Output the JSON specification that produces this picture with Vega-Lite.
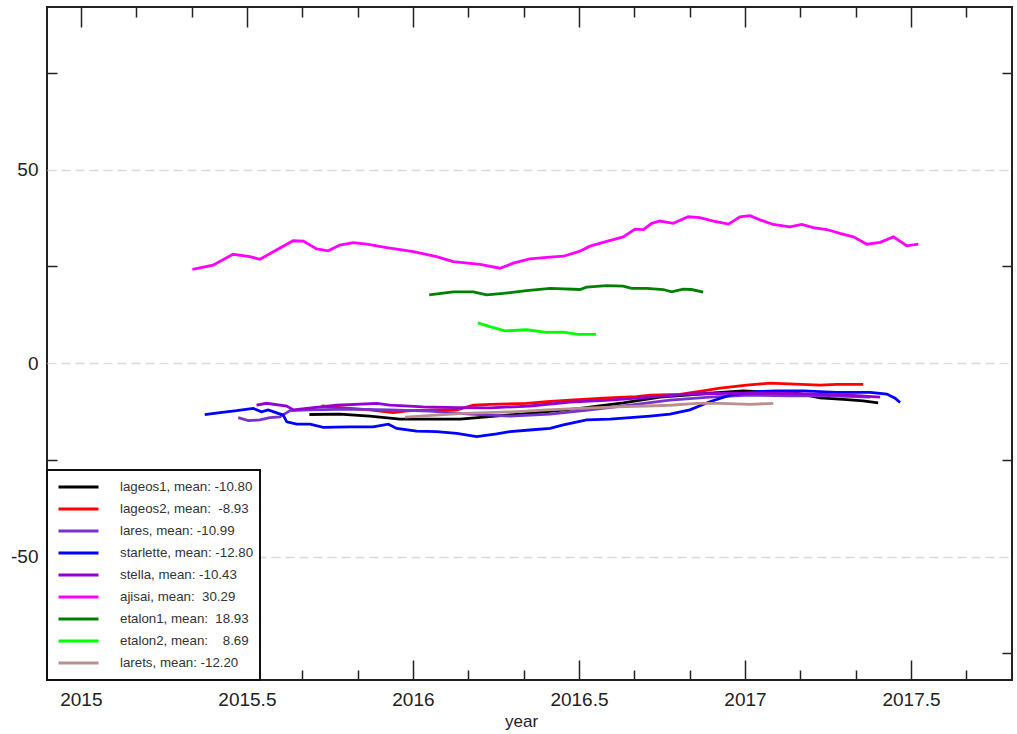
{
  "$schema": "https://vega.github.io/schema/vega-lite/v6.json",
  "width": 965,
  "height": 673,
  "autosize": "none",
  "padding": {"left": 47, "top": 7, "right": 5, "bottom": 54},
  "background": "white",
  "config": {
    "view": {"stroke": "#222222", "strokeWidth": 2},
    "font": "Liberation Sans",
    "legend": {"strokeWidth": 2}
  },
  "datasets": {
    "orbits": [
      {"sat": "lageos1", "t": 2015.688, "v": -13.3},
      {"sat": "lageos1", "t": 2015.780, "v": -13.2},
      {"sat": "lageos1", "t": 2015.870, "v": -13.7},
      {"sat": "lageos1", "t": 2015.961, "v": -14.5},
      {"sat": "lageos1", "t": 2016.051, "v": -14.5},
      {"sat": "lageos1", "t": 2016.142, "v": -14.5},
      {"sat": "lageos1", "t": 2016.222, "v": -13.9},
      {"sat": "lageos1", "t": 2016.292, "v": -13.4},
      {"sat": "lageos1", "t": 2016.373, "v": -12.8},
      {"sat": "lageos1", "t": 2016.503, "v": -11.7},
      {"sat": "lageos1", "t": 2016.633, "v": -10.3},
      {"sat": "lageos1", "t": 2016.744, "v": -8.8},
      {"sat": "lageos1", "t": 2016.895, "v": -7.8},
      {"sat": "lageos1", "t": 2016.995, "v": -7.2},
      {"sat": "lageos1", "t": 2017.156, "v": -7.8},
      {"sat": "lageos1", "t": 2017.226, "v": -9.0},
      {"sat": "lageos1", "t": 2017.296, "v": -9.4},
      {"sat": "lageos1", "t": 2017.356, "v": -9.8},
      {"sat": "lageos1", "t": 2017.401, "v": -10.3},

      {"sat": "lageos2", "t": 2015.725, "v": -11.1},
      {"sat": "lageos2", "t": 2015.780, "v": -11.5},
      {"sat": "lageos2", "t": 2015.870, "v": -12.1},
      {"sat": "lageos2", "t": 2015.940, "v": -12.8},
      {"sat": "lageos2", "t": 2015.991, "v": -12.3},
      {"sat": "lageos2", "t": 2016.072, "v": -12.1},
      {"sat": "lageos2", "t": 2016.133, "v": -12.1},
      {"sat": "lageos2", "t": 2016.182, "v": -10.9},
      {"sat": "lageos2", "t": 2016.232, "v": -10.7},
      {"sat": "lageos2", "t": 2016.342, "v": -10.4},
      {"sat": "lageos2", "t": 2016.403, "v": -10.0},
      {"sat": "lageos2", "t": 2016.473, "v": -9.6},
      {"sat": "lageos2", "t": 2016.573, "v": -9.1},
      {"sat": "lageos2", "t": 2016.674, "v": -8.7},
      {"sat": "lageos2", "t": 2016.714, "v": -8.3},
      {"sat": "lageos2", "t": 2016.804, "v": -8.1},
      {"sat": "lageos2", "t": 2016.874, "v": -7.2},
      {"sat": "lageos2", "t": 2016.925, "v": -6.5},
      {"sat": "lageos2", "t": 2017.005, "v": -5.7},
      {"sat": "lageos2", "t": 2017.075, "v": -5.2},
      {"sat": "lageos2", "t": 2017.226, "v": -5.7},
      {"sat": "lageos2", "t": 2017.276, "v": -5.5},
      {"sat": "lageos2", "t": 2017.356, "v": -5.5},

      {"sat": "lares", "t": 2015.474, "v": -14.1},
      {"sat": "lares", "t": 2015.504, "v": -14.9},
      {"sat": "lares", "t": 2015.539, "v": -14.7},
      {"sat": "lares", "t": 2015.569, "v": -14.1},
      {"sat": "lares", "t": 2015.599, "v": -13.9},
      {"sat": "lares", "t": 2015.630, "v": -12.3},
      {"sat": "lares", "t": 2015.690, "v": -12.1},
      {"sat": "lares", "t": 2015.810, "v": -11.9},
      {"sat": "lares", "t": 2015.931, "v": -12.1},
      {"sat": "lares", "t": 2016.051, "v": -12.4},
      {"sat": "lares", "t": 2016.172, "v": -13.2},
      {"sat": "lares", "t": 2016.292, "v": -13.7},
      {"sat": "lares", "t": 2016.413, "v": -13.2},
      {"sat": "lares", "t": 2016.533, "v": -12.1},
      {"sat": "lares", "t": 2016.654, "v": -10.9},
      {"sat": "lares", "t": 2016.774, "v": -9.6},
      {"sat": "lares", "t": 2016.894, "v": -8.8},
      {"sat": "lares", "t": 2017.015, "v": -8.3},
      {"sat": "lares", "t": 2017.136, "v": -8.5},
      {"sat": "lares", "t": 2017.256, "v": -8.5},
      {"sat": "lares", "t": 2017.377, "v": -8.8},

      {"sat": "starlette", "t": 2015.373, "v": -13.3},
      {"sat": "starlette", "t": 2015.419, "v": -12.8},
      {"sat": "starlette", "t": 2015.469, "v": -12.3},
      {"sat": "starlette", "t": 2015.519, "v": -11.7},
      {"sat": "starlette", "t": 2015.544, "v": -12.6},
      {"sat": "starlette", "t": 2015.564, "v": -12.1},
      {"sat": "starlette", "t": 2015.594, "v": -13.0},
      {"sat": "starlette", "t": 2015.609, "v": -13.4},
      {"sat": "starlette", "t": 2015.620, "v": -15.2},
      {"sat": "starlette", "t": 2015.650, "v": -15.8},
      {"sat": "starlette", "t": 2015.690, "v": -15.8},
      {"sat": "starlette", "t": 2015.730, "v": -16.6},
      {"sat": "starlette", "t": 2015.810, "v": -16.5},
      {"sat": "starlette", "t": 2015.880, "v": -16.5},
      {"sat": "starlette", "t": 2015.926, "v": -15.8},
      {"sat": "starlette", "t": 2015.951, "v": -16.9},
      {"sat": "starlette", "t": 2016.011, "v": -17.6},
      {"sat": "starlette", "t": 2016.071, "v": -17.7},
      {"sat": "starlette", "t": 2016.132, "v": -18.2},
      {"sat": "starlette", "t": 2016.192, "v": -19.0},
      {"sat": "starlette", "t": 2016.252, "v": -18.3},
      {"sat": "starlette", "t": 2016.292, "v": -17.7},
      {"sat": "starlette", "t": 2016.352, "v": -17.3},
      {"sat": "starlette", "t": 2016.413, "v": -16.9},
      {"sat": "starlette", "t": 2016.453, "v": -16.0},
      {"sat": "starlette", "t": 2016.523, "v": -14.7},
      {"sat": "starlette", "t": 2016.593, "v": -14.5},
      {"sat": "starlette", "t": 2016.654, "v": -14.1},
      {"sat": "starlette", "t": 2016.714, "v": -13.7},
      {"sat": "starlette", "t": 2016.774, "v": -13.2},
      {"sat": "starlette", "t": 2016.834, "v": -12.1},
      {"sat": "starlette", "t": 2016.894, "v": -10.0},
      {"sat": "starlette", "t": 2016.955, "v": -8.3},
      {"sat": "starlette", "t": 2017.035, "v": -7.4},
      {"sat": "starlette", "t": 2017.095, "v": -7.2},
      {"sat": "starlette", "t": 2017.176, "v": -7.2},
      {"sat": "starlette", "t": 2017.276, "v": -7.6},
      {"sat": "starlette", "t": 2017.377, "v": -7.6},
      {"sat": "starlette", "t": 2017.427, "v": -8.0},
      {"sat": "starlette", "t": 2017.452, "v": -9.1},
      {"sat": "starlette", "t": 2017.467, "v": -10.2},

      {"sat": "stella", "t": 2015.529, "v": -10.9},
      {"sat": "stella", "t": 2015.559, "v": -10.4},
      {"sat": "stella", "t": 2015.620, "v": -11.1},
      {"sat": "stella", "t": 2015.640, "v": -12.1},
      {"sat": "stella", "t": 2015.680, "v": -11.7},
      {"sat": "stella", "t": 2015.770, "v": -10.9},
      {"sat": "stella", "t": 2015.891, "v": -10.4},
      {"sat": "stella", "t": 2015.931, "v": -10.9},
      {"sat": "stella", "t": 2016.031, "v": -11.3},
      {"sat": "stella", "t": 2016.132, "v": -11.5},
      {"sat": "stella", "t": 2016.232, "v": -11.6},
      {"sat": "stella", "t": 2016.352, "v": -11.1},
      {"sat": "stella", "t": 2016.473, "v": -10.1},
      {"sat": "stella", "t": 2016.593, "v": -9.6},
      {"sat": "stella", "t": 2016.714, "v": -8.8},
      {"sat": "stella", "t": 2016.834, "v": -8.0},
      {"sat": "stella", "t": 2016.955, "v": -7.8},
      {"sat": "stella", "t": 2017.075, "v": -7.8},
      {"sat": "stella", "t": 2017.196, "v": -8.0},
      {"sat": "stella", "t": 2017.316, "v": -8.3},
      {"sat": "stella", "t": 2017.407, "v": -8.8},

      {"sat": "ajisai", "t": 2015.336, "v": 24.2},
      {"sat": "ajisai", "t": 2015.398, "v": 25.3},
      {"sat": "ajisai", "t": 2015.458, "v": 28.1},
      {"sat": "ajisai", "t": 2015.509, "v": 27.5},
      {"sat": "ajisai", "t": 2015.539, "v": 26.8},
      {"sat": "ajisai", "t": 2015.589, "v": 29.2},
      {"sat": "ajisai", "t": 2015.639, "v": 31.6},
      {"sat": "ajisai", "t": 2015.670, "v": 31.5},
      {"sat": "ajisai", "t": 2015.710, "v": 29.5},
      {"sat": "ajisai", "t": 2015.745, "v": 29.0},
      {"sat": "ajisai", "t": 2015.780, "v": 30.5},
      {"sat": "ajisai", "t": 2015.820, "v": 31.1},
      {"sat": "ajisai", "t": 2015.861, "v": 30.7},
      {"sat": "ajisai", "t": 2015.921, "v": 29.8},
      {"sat": "ajisai", "t": 2016.001, "v": 28.8},
      {"sat": "ajisai", "t": 2016.071, "v": 27.5},
      {"sat": "ajisai", "t": 2016.121, "v": 26.2},
      {"sat": "ajisai", "t": 2016.202, "v": 25.5},
      {"sat": "ajisai", "t": 2016.262, "v": 24.5},
      {"sat": "ajisai", "t": 2016.302, "v": 25.8},
      {"sat": "ajisai", "t": 2016.352, "v": 26.9},
      {"sat": "ajisai", "t": 2016.403, "v": 27.3},
      {"sat": "ajisai", "t": 2016.453, "v": 27.6},
      {"sat": "ajisai", "t": 2016.503, "v": 28.9},
      {"sat": "ajisai", "t": 2016.533, "v": 30.2},
      {"sat": "ajisai", "t": 2016.573, "v": 31.2},
      {"sat": "ajisai", "t": 2016.633, "v": 32.6},
      {"sat": "ajisai", "t": 2016.669, "v": 34.6},
      {"sat": "ajisai", "t": 2016.694, "v": 34.5},
      {"sat": "ajisai", "t": 2016.719, "v": 36.1},
      {"sat": "ajisai", "t": 2016.744, "v": 36.7},
      {"sat": "ajisai", "t": 2016.784, "v": 36.1},
      {"sat": "ajisai", "t": 2016.829, "v": 37.8},
      {"sat": "ajisai", "t": 2016.864, "v": 37.6},
      {"sat": "ajisai", "t": 2016.905, "v": 36.7},
      {"sat": "ajisai", "t": 2016.950, "v": 35.9},
      {"sat": "ajisai", "t": 2016.985, "v": 37.8},
      {"sat": "ajisai", "t": 2017.015, "v": 38.1},
      {"sat": "ajisai", "t": 2017.045, "v": 37.0},
      {"sat": "ajisai", "t": 2017.085, "v": 35.8},
      {"sat": "ajisai", "t": 2017.135, "v": 35.2},
      {"sat": "ajisai", "t": 2017.171, "v": 35.8},
      {"sat": "ajisai", "t": 2017.206, "v": 35.0},
      {"sat": "ajisai", "t": 2017.246, "v": 34.5},
      {"sat": "ajisai", "t": 2017.286, "v": 33.5},
      {"sat": "ajisai", "t": 2017.326, "v": 32.6},
      {"sat": "ajisai", "t": 2017.367, "v": 30.7},
      {"sat": "ajisai", "t": 2017.407, "v": 31.2},
      {"sat": "ajisai", "t": 2017.447, "v": 32.6},
      {"sat": "ajisai", "t": 2017.487, "v": 30.3},
      {"sat": "ajisai", "t": 2017.522, "v": 30.7},

      {"sat": "etalon1", "t": 2016.049, "v": 17.6},
      {"sat": "etalon1", "t": 2016.121, "v": 18.4},
      {"sat": "etalon1", "t": 2016.182, "v": 18.4},
      {"sat": "etalon1", "t": 2016.222, "v": 17.6},
      {"sat": "etalon1", "t": 2016.272, "v": 18.0},
      {"sat": "etalon1", "t": 2016.342, "v": 18.7},
      {"sat": "etalon1", "t": 2016.413, "v": 19.3},
      {"sat": "etalon1", "t": 2016.503, "v": 19.0},
      {"sat": "etalon1", "t": 2016.523, "v": 19.6},
      {"sat": "etalon1", "t": 2016.583, "v": 20.0},
      {"sat": "etalon1", "t": 2016.633, "v": 19.9},
      {"sat": "etalon1", "t": 2016.659, "v": 19.3},
      {"sat": "etalon1", "t": 2016.704, "v": 19.3},
      {"sat": "etalon1", "t": 2016.754, "v": 19.0},
      {"sat": "etalon1", "t": 2016.779, "v": 18.4},
      {"sat": "etalon1", "t": 2016.814, "v": 19.1},
      {"sat": "etalon1", "t": 2016.839, "v": 19.0},
      {"sat": "etalon1", "t": 2016.874, "v": 18.3},

      {"sat": "etalon2", "t": 2016.195, "v": 10.4},
      {"sat": "etalon2", "t": 2016.232, "v": 9.4},
      {"sat": "etalon2", "t": 2016.277, "v": 8.3},
      {"sat": "etalon2", "t": 2016.342, "v": 8.6},
      {"sat": "etalon2", "t": 2016.403, "v": 7.9},
      {"sat": "etalon2", "t": 2016.453, "v": 8.0},
      {"sat": "etalon2", "t": 2016.498, "v": 7.4},
      {"sat": "etalon2", "t": 2016.551, "v": 7.4},

      {"sat": "larets", "t": 2015.976, "v": -14.0},
      {"sat": "larets", "t": 2016.081, "v": -13.4},
      {"sat": "larets", "t": 2016.151, "v": -13.0},
      {"sat": "larets", "t": 2016.301, "v": -12.6},
      {"sat": "larets", "t": 2016.403, "v": -12.1},
      {"sat": "larets", "t": 2016.503, "v": -11.7},
      {"sat": "larets", "t": 2016.614, "v": -11.3},
      {"sat": "larets", "t": 2016.704, "v": -11.1},
      {"sat": "larets", "t": 2016.774, "v": -10.9},
      {"sat": "larets", "t": 2016.855, "v": -10.4},
      {"sat": "larets", "t": 2016.925, "v": -10.4},
      {"sat": "larets", "t": 2017.015, "v": -10.7},
      {"sat": "larets", "t": 2017.085, "v": -10.4}
    ]
  },
  "data": {"name": "orbits"},
  "layer": [
    {
      "mark": {"type": "line", "strokeWidth": 2.8, "clip": true},
      "encoding": {
        "x": {
          "field": "t", "type": "quantitative",
          "scale": {"domain": [2014.898, 2017.804], "nice": false, "zero": false},
          "axis": {
            "orient": "bottom",
            "values": [2015, 2015.5, 2016, 2016.5, 2017, 2017.5],
            "labelExpr": "'' + datum.value",
            "ticks": false, "domain": false, "grid": false,
            "labelFontSize": 19, "labelColor": "#222222", "labelPadding": 10, "labelFlush": false,
            "title": "year", "titleFontSize": 17, "titleFontWeight": "normal", "titleColor": "#222222",
            "titleX": 474, "titleY": 46, "titleBaseline": "alphabetic", "titleAnchor": "middle"
          }
        },
        "y": {
          "field": "v", "type": "quantitative",
          "scale": {"domain": [-81.9, 92.0], "nice": false, "zero": false},
          "axis": {
            "orient": "left",
            "values": [-50, 0, 50],
            "labelExpr": "datum.value < 0 ? '-' + abs(datum.value) : '' + datum.value",
            "ticks": false, "domain": false,
            "grid": true, "gridDash": [9, 5], "gridColor": "#dcdcdc", "gridWidth": 1.5,
            "labelFontSize": 19, "labelColor": "#222222", "labelPadding": 9,
            "title": null
          }
        },
        "color": {
          "field": "sat", "type": "nominal",
          "scale": {
            "domain": ["lageos1", "lageos2", "lares", "starlette", "stella", "ajisai", "etalon1", "etalon2", "larets"],
            "range": ["#000000", "#ff0000", "#7733cc", "#0000ff", "#9400d3", "#ff00ff", "#008000", "#00ff00", "#bc8f8f"]
          },
          "legend": {
            "orient": "none", "legendX": 0, "legendY": 463, "direction": "vertical",
            "title": null,
            "symbolType": "stroke", "symbolSize": 1600, "symbolStrokeWidth": 3,
            "clipHeight": 22, "rowPadding": 0,
            "labelOffset": 20, "labelFontSize": 13.3, "labelColor": "#333333", "labelLimit": 400,
            "padding": 6, "symbolOffset": 4,
            "strokeColor": "#111111", "fillColor": "white",
            "labelExpr": "{'lageos1': 'lageos1, mean: -10.80', 'lageos2': 'lageos2, mean: \u00a0-8.93', 'lares': 'lares, mean: -10.99', 'starlette': 'starlette, mean: -12.80', 'stella': 'stella, mean: -10.43', 'ajisai': 'ajisai, mean: \u00a030.29', 'etalon1': 'etalon1, mean: \u00a018.93', 'etalon2': 'etalon2, mean: \u00a0\u00a0 8.69', 'larets': 'larets, mean: -12.20'}[datum.label]"
          }
        }
      }
    },
    {
      "mark": {"type": "line", "strokeOpacity": 0},
      "encoding": {
        "detail": {"field": "sat"},
        "x": {
          "field": "t", "type": "quantitative",
          "axis": {
            "orient": "bottom",
            "values": [2015, 2015.1667, 2015.3333, 2015.5, 2015.6667, 2015.8333, 2016, 2016.1667, 2016.3333, 2016.5, 2016.6667, 2016.8333, 2017, 2017.1667, 2017.3333, 2017.5, 2017.6667],
            "labels": false, "domain": false, "grid": false, "ticks": true,
            "tickSize": {"condition": {"test": "abs(datum.value*2 - round(datum.value*2)) < 0.01", "value": -20}, "value": -10},
            "tickColor": "#222222", "tickWidth": 1.5, "title": null
          }
        },
        "y": {
          "field": "v", "type": "quantitative",
          "axis": {
            "orient": "left",
            "values": [-75, -25, 25, 75],
            "labels": false, "domain": false, "grid": false, "ticks": true,
            "tickSize": -10, "tickColor": "#222222", "tickWidth": 1.5, "title": null
          }
        }
      }
    },
    {
      "mark": {"type": "line", "strokeOpacity": 0},
      "encoding": {
        "detail": {"field": "sat"},
        "x": {
          "field": "t", "type": "quantitative",
          "axis": {
            "orient": "top",
            "values": [2015, 2015.1667, 2015.3333, 2015.5, 2015.6667, 2015.8333, 2016, 2016.1667, 2016.3333, 2016.5, 2016.6667, 2016.8333, 2017, 2017.1667, 2017.3333, 2017.5, 2017.6667],
            "labels": false, "domain": false, "grid": false, "ticks": true,
            "tickSize": {"condition": {"test": "abs(datum.value*2 - round(datum.value*2)) < 0.01", "value": -20}, "value": -10},
            "tickColor": "#222222", "tickWidth": 1.5, "title": null
          }
        },
        "y": {
          "field": "v", "type": "quantitative",
          "axis": {
            "orient": "right",
            "values": [-75, -25, 25, 75],
            "labels": false, "domain": false, "grid": false, "ticks": true,
            "tickSize": -10, "tickColor": "#222222", "tickWidth": 1.5, "title": null
          }
        }
      }
    }
  ],
  "resolve": {"axis": {"x": "independent", "y": "independent"}}
}
